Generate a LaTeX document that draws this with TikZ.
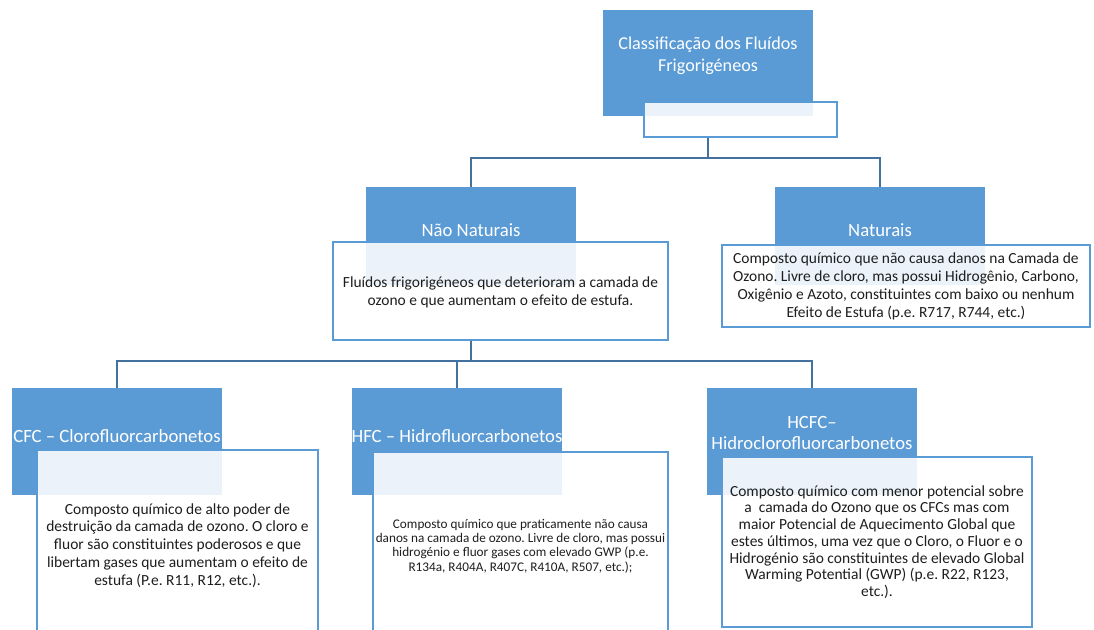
\documentclass[tikz,border=0pt]{standalone}
\usepackage{fontspec}
\setmainfont{Carlito}
\usetikzlibrary{fit}
\definecolor{hdrblue}{HTML}{5B9BD5}
\definecolor{edgeblue}{HTML}{5B9BD5}
\definecolor{connblue}{HTML}{44729F}
\definecolor{bodytext}{HTML}{1E1E1E}
\frenchspacing

\begin{document}
\begin{tikzpicture}[x=0.025cm,y=-0.025cm,
	hdr/.style={fill=hdrblue, inner sep=0pt},
	hdrtxt/.style={text=white, align=center, inner sep=0pt, font=\fontsize{13.3}{15.5}\selectfont},
	descbox/.style={draw=edgeblue, line width=1.4pt, fill=white, fill opacity=0.88, inner sep=0pt},
	desctxt/.style={text=bodytext, inner sep=0pt, align=center, font=\fontsize{11}{12.8}\selectfont},
	conn/.style={draw=connblue, line width=1.8pt}]
	\useasboundingbox (0,0) rectangle (1094,630);
	\clip (0,0) rectangle (1094,630);
	% topo
	\node[hdr, fit={(603,10) (813,116)}] (top) {};
	\node[hdrtxt, font=\fontsize{12.9}{15.5}\selectfont] (toptxt) at ([yshift=5pt]top.center) {Classificação dos Fluídos\\Frigorigéneos};
	\node[descbox, fit={(644,102) (837,137)}] (topw) {};
	% nivel 1
	\node[hdr, fit={(366,187) (576,285)}] (nn) {};
	\node[hdrtxt] (nntxt) at ([yshift=4.5pt]nn.center) {Não Naturais};
	\node[descbox, fit={(333,242) (668,340)}] (nnw) {};
	\node[desctxt] (nnwtxt) at ([yshift=-0.7pt]nnw.center) {Fluídos frigorigéneos que deterioram a camada de\\ozono e que aumentam o efeito de estufa.};
	\node[hdr, fit={(775,187) (985,285)}] (nat) {};
	\node[hdrtxt] (nattxt) at ([yshift=4.5pt]nat.center) {Naturais};
	\node[descbox, fit={(722,245) (1090,327)}] (natw) {};
	\node[desctxt] (natwtxt) at ([yshift=-0.6pt]natw.center) {Composto químico que não causa danos na Camada de\\Ozono. Livre de cloro, mas possui Hidrogênio, Carbono,\\Oxigênio e Azoto, constituintes com baixo ou nenhum\\Efeito de Estufa (p.e. R717, R744, etc.)};
	% nivel 2
	\node[hdr, fit={(12,388) (222,495)}] (cfc) {};
	\node[hdrtxt] (cfctxt) at ([yshift=4pt]cfc.center) {CFC – Clorofluorcarbonetos};
	\node[descbox, fit={(37,450) (318,640)}] (cfcw) {};
	\node[desctxt, font=\fontsize{11}{12.6}\selectfont] (cfcwtxt) at ([yshift=-0.2pt]cfcw.center) {Composto químico de alto poder de\\destruição da camada de ozono. O cloro e\\fluor são constituintes poderosos e que\\libertam gases que aumentam o efeito de\\estufa (P.e. R11, R12, etc.).};
	\node[hdr, fit={(352,388) (562,495)}] (hfc) {};
	\node[hdrtxt] (hfctxt) at ([yshift=4pt]hfc.center) {HFC – Hidrofluorcarbonetos};
	\node[descbox, fit={(373,452) (668,640)}] (hfcw) {};
	\node[desctxt, font=\fontsize{9.4}{10.2}\selectfont] (hfcwtxt) at (hfcw.center) {Composto químico que praticamente não causa\\danos na camada de ozono. Livre de cloro, mas possui\\hidrogénio e fluor gases com elevado GWP (p.e.\\R134a, R404A, R407C, R410A, R507, etc.);};
	\node[hdr, fit={(707,388) (917,495)}] (hcfc) {};
	\node[hdrtxt] (hcfctxt) at ([yshift=6pt]hcfc.center) {HCFC–\\Hidroclorofluorcarbonetos};
	\node[descbox, fit={(722,457) (1032,627)}] (hcfcw) {};
	\node[desctxt, font=\fontsize{11}{11.9}\selectfont] (hcfcwtxt) at (hcfcw.center) {Composto químico com menor potencial sobre\\a \ camada do Ozono que os CFCs mas com\\maior Potencial de Aquecimento Global que\\estes últimos, uma vez que o Cloro, o Fluor e o\\Hidrogénio são constituintes de elevado Global\\Warming Potential (GWP) (p.e. R22, R123,\\etc.).};
	% ligacoes
	\draw[conn] (topw.south -| top.south) -- ++(0,20) -| (nn.north);
	\draw[conn] (topw.south -| top.south) -- ++(0,20) -| (nat.north);
	\draw[conn] (nnw.south -| nn.south) -- ++(0,20) -| (cfc.north);
	\draw[conn] (nnw.south -| nn.south) -- ++(0,20) -| (hfc.north);
	\draw[conn] (nnw.south -| nn.south) -- ++(0,20) -| (hcfc.north);
\end{tikzpicture}
\end{document}
